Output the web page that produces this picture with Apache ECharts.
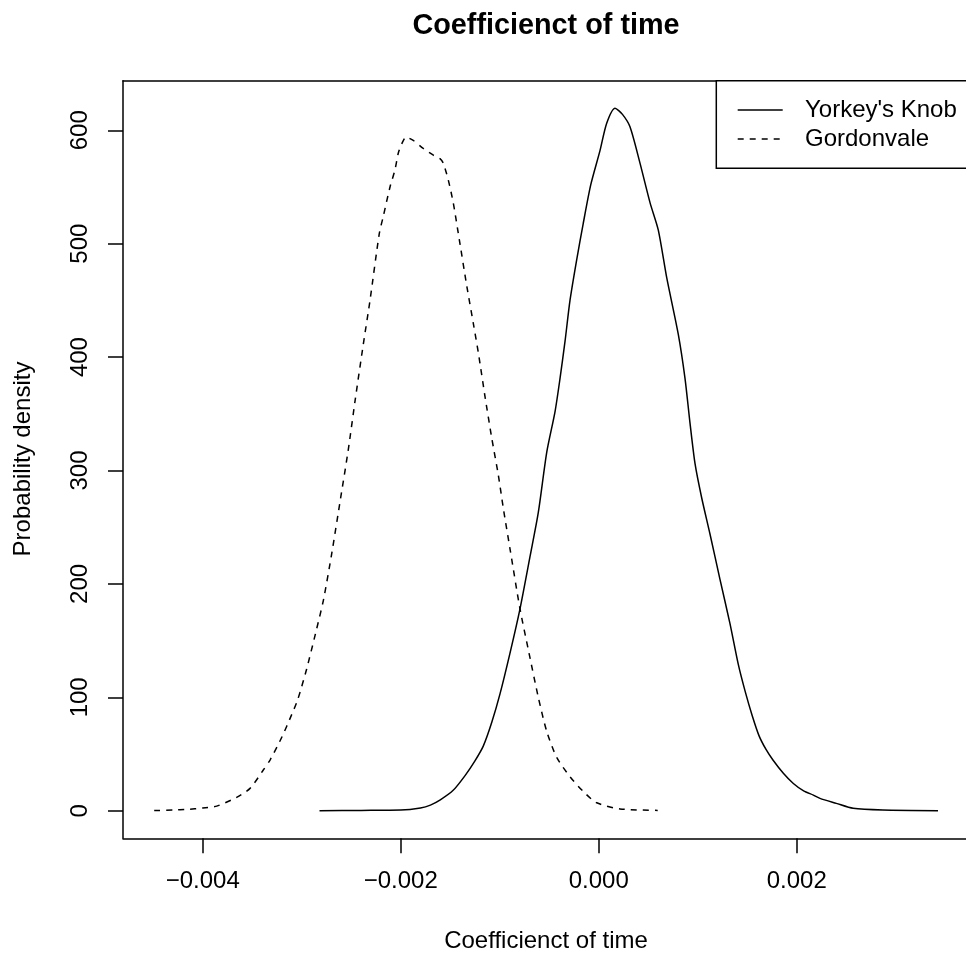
<!DOCTYPE html>
<html>
<head>
<meta charset="utf-8">
<script src="https://cdn.jsdelivr.net/npm/echarts@6/dist/echarts.min.js"></script>
<style>
html,body{margin:0;padding:0;background:#fff;}
#chart{width:966px;height:958px;}
</style>
</head>
<body>
<div id="chart"></div>
<script>
// ---- Data ----
const yorkeyX = [-0.00282,-0.00240,-0.00200,-0.00180,-0.00170,-0.00160,-0.00147,-0.00135,-0.00125,-0.001166,-0.00108,-0.000997,-0.000896,-0.000795,-0.000694,-0.00061,-0.000525,-0.000441,-0.000391,-0.00034,-0.00029,-0.000222,-0.000156,-0.00008,0.000013,0.00008,0.000165,0.00024,0.000316,0.000417,0.000519,0.000602,0.000687,0.000804,0.000872,0.000922,0.000973,0.00104,0.001124,0.001225,0.001326,0.00141,0.00148,0.00155,0.00162,0.00169,0.00176,0.001865,0.001966,0.00207,0.002168,0.002235,0.0024,0.00257,0.00287,0.003427];
const yorkeyY = [0.1,0.3,0.6,2.5,5,9.6,18,31,44,57,78,103,139,178,224,263,316,352,381,414,450,486,518,552,582,606,619.4,614,603,571,536,512,470,420,381,342,306,276,244,204,165,129,105,84,66,54,44.7,33,24,17.5,13.8,10.9,6.5,2.1,0.6,0.1];

const gordonX = [-0.00449,-0.00430,-0.00416,-0.00400,-0.003858,-0.003657,-0.003522,-0.003388,-0.00332,-0.00320,-0.00310,-0.00304,-0.00295,-0.00285,-0.00278,-0.00270,-0.00261,-0.00253,-0.00246,-0.00238,-0.00231,-0.002216,-0.002176,-0.002108,-0.002058,-0.002024,-0.00199,-0.001946,-0.001873,-0.001772,-0.00167,-0.001603,-0.00157,-0.001519,-0.001469,-0.001418,-0.001333,-0.001267,-0.001216,-0.001148,-0.001081,-0.001014,-0.000964,-0.000896,-0.000795,-0.000711,-0.00061,-0.000525,-0.000424,-0.00029,-0.000156,-0.00002,0.000215,0.000596];
const gordonY = [0.2,0.6,1.2,2.4,4.1,11.8,19.7,35.9,44.7,65,85,98,125,160,186,225,274,318,362,410,450,509,524,550,565,580,588,594,591,584,578,575,571,556,536,509,463,430,404,365,329,296,267,231,178,142,100,70,47,30,17,7,1.6,0.3];

const seriesNames = ["Yorkey's Knob", "Gordonvale"];
const xTickValues = [-0.004, -0.002, 0, 0.002];
const xTickLabels = ['\u22120.004', '\u22120.002', '0.000', '0.002'];
const yTickValues = [0, 100, 200, 300, 400, 500, 600];
const yTickLabels = ['0', '100', '200', '300', '400', '500', '600'];

const titleText = 'Coefficienct of time';
const xTitle = 'Coefficienct of time';
const yTitle = 'Probability density';

// axis ranges (R style, 4% extension)
const xMin = -0.004805, xMax = 0.00371;
const yMin = -24.3, yMax = 643.7;

// ---- Build ----
const FONT = '"Liberation Sans", Arial, Helvetica, sans-serif';
const pairs = (xs, ys) => xs.map((x, i) => [x, ys[i]]);

const chart = echarts.init(document.getElementById('chart'), null, {renderer: 'canvas'});

const option = {
  backgroundColor: '#ffffff',
  animation: false,
  textStyle: {fontFamily: FONT, color: '#000'},
  grid: {left: 123, top: 80.7, right: 0, bottom: 119.7, containLabel: false, show: false},
  xAxis: [{
    type: 'value', position: 'bottom', min: xMin, max: xMax,
    axisLine: {show: true, onZero: false, lineStyle: {color: '#000', width: 1.5}},
    axisTick: {show: true, inside: false, length: 15, customValues: xTickValues, lineStyle: {color: '#000', width: 1.5}},
    axisLabel: {show: true, margin: 31, customValues: xTickValues, fontSize: 24, color: '#000', fontFamily: FONT,
      formatter: v => { const i = xTickValues.findIndex(t => Math.abs(t - v) < 1e-9); return i >= 0 ? xTickLabels[i] : ''; }},
    splitLine: {show: false}
  }, {
    type: 'value', position: 'top', min: xMin, max: xMax,
    axisLine: {show: true, onZero: false, lineStyle: {color: '#000', width: 1.5}},
    axisTick: {show: false}, axisLabel: {show: false}, splitLine: {show: false}
  }],
  yAxis: [{
    type: 'value', position: 'left', min: yMin, max: yMax,
    axisLine: {show: true, onZero: false, lineStyle: {color: '#000', width: 1.5}},
    axisTick: {show: true, inside: false, length: 15, customValues: yTickValues, lineStyle: {color: '#000', width: 1.5}},
    axisLabel: {show: true, margin: 31, rotate: 90, customValues: yTickValues, fontSize: 24, color: '#000', fontFamily: FONT,
      formatter: v => { const i = yTickValues.findIndex(t => Math.abs(t - v) < 1e-6); return i >= 0 ? yTickLabels[i] : ''; }},
    splitLine: {show: false}
  }],
  legend: {show: false},
  series: [{
    name: seriesNames[0], type: 'line', data: pairs(yorkeyX, yorkeyY),
    symbol: 'none', smooth: 0.25, clip: true,
    lineStyle: {color: '#000', width: 1.5, type: 'solid'}, itemStyle: {color: '#000'}
  }, {
    name: seriesNames[1], type: 'line', data: pairs(gordonX, gordonY),
    symbol: 'none', smooth: 0.25, clip: true,
    lineStyle: {color: '#000', width: 1.5, type: [6, 6]}, itemStyle: {color: '#000'}
  }],
  graphic: [
    {type: 'text', x: 546, y: 26, style: {text: titleText, font: 'bold 28.8px ' + FONT, fill: '#000', textAlign: 'center', textVerticalAlign: 'middle'}},
    {type: 'text', x: 546, y: 941, style: {text: xTitle, font: '24px ' + FONT, fill: '#000', textAlign: 'center', textVerticalAlign: 'middle'}},
    {type: 'text', x: 23, y: 459, rotation: Math.PI / 2, style: {text: yTitle, font: '24px ' + FONT, fill: '#000', textAlign: 'center', textVerticalAlign: 'middle'}},
    // legend box
    {type: 'rect', shape: {x: 716.3, y: 80.7, width: 260, height: 87.6}, style: {fill: '#fff', stroke: '#000', lineWidth: 1.5}, z: 10},
    {type: 'line', shape: {x1: 737.7, y1: 110, x2: 782.7, y2: 110}, style: {stroke: '#000', lineWidth: 1.5}, z: 11},
    {type: 'line', shape: {x1: 737.7, y1: 139, x2: 782.7, y2: 139}, style: {stroke: '#000', lineWidth: 1.5, lineDash: [6, 6]}, z: 11},
    {type: 'text', x: 805, y: 110, style: {text: seriesNames[0], font: '24px ' + FONT, fill: '#000', textAlign: 'left', textVerticalAlign: 'middle'}, z: 11},
    {type: 'text', x: 805, y: 139, style: {text: seriesNames[1], font: '24px ' + FONT, fill: '#000', textAlign: 'left', textVerticalAlign: 'middle'}, z: 11}
  ]
};
chart.setOption(option);
</script>
</body>
</html>
